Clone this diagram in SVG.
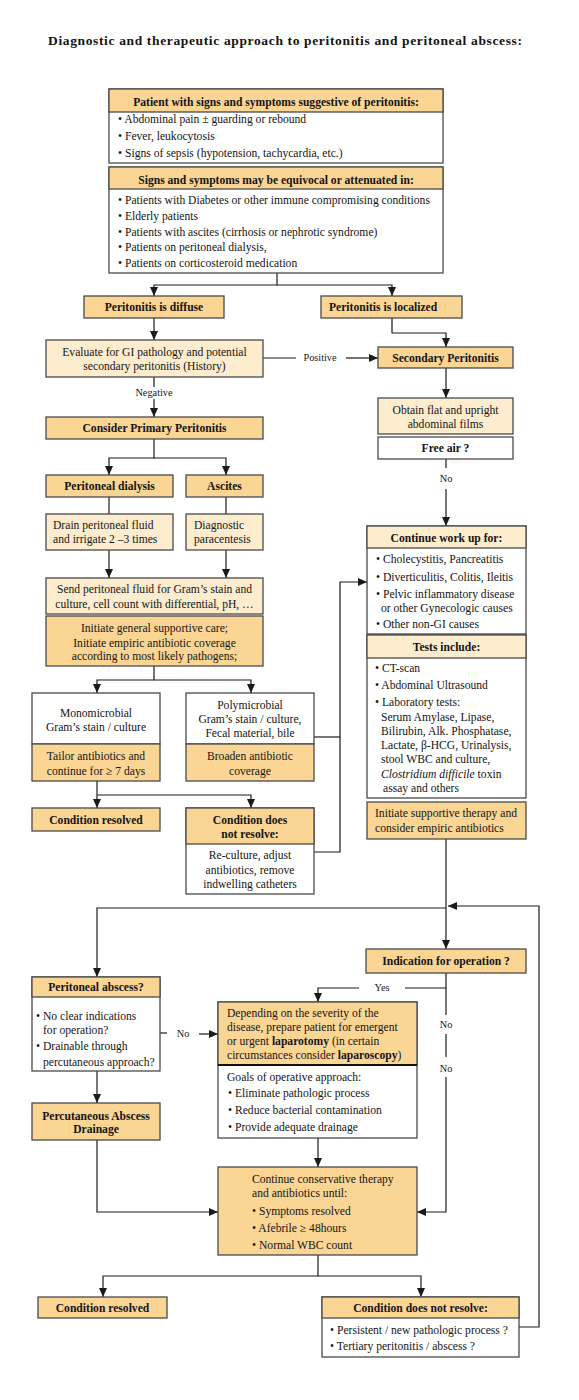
<svg xmlns="http://www.w3.org/2000/svg" width="579" height="1400" viewBox="0 0 579 1400">
<defs>
<marker id="ah" markerUnits="userSpaceOnUse" markerWidth="9" markerHeight="8" refX="9" refY="4" orient="auto">
<path d="M0,0 L9,4 L0,8 z" fill="#1a1a1a"/>
</marker>
<style>
.bx{stroke:#4a4a4a;stroke-width:1.3}
.dk{fill:#FAD594}
.cr{fill:#FDEDCE}
.wh{fill:#ffffff}
text{font-family:"Liberation Serif","Times New Roman",serif;font-size:11.6px;fill:#141414}
.b{font-weight:bold}
.m{text-anchor:middle}
.l{font-size:10.3px}
.c{fill:none;stroke:#1a1a1a;stroke-width:1.2}
.a{marker-end:url(#ah)}
.sep{stroke:#111;stroke-width:2}
</style>
</defs>
<rect width="579" height="1400" fill="#ffffff"/>
<text x="285" y="45" class="b m" style="font-size:13.5px" textLength="474">Diagnostic and therapeutic approach to peritonitis and peritoneal abscess:</text>

<g id="connectors">
<path class="c a" d="M277,273 V285 H154 V296"/>
<path class="c a" d="M277,285 H392 V296"/>
<path class="c a" d="M154,318 V340"/>
<path class="c a" d="M392,318 V333 H446 V347"/>
<path class="c" d="M263,358 H296"/>
<text x="320" y="361" class="m l">Positive</text>
<path class="c a" d="M346,358 H378"/>
<path class="c" d="M154,377 V387"/>
<text x="154" y="396" class="m l">Negative</text>
<path class="c a" d="M154,399 V417"/>
<path class="c a" d="M154,439 V458 H109 V475"/>
<path class="c a" d="M154,458 H226 V475"/>
<path class="c" d="M109,497 V514"/>
<path class="c" d="M226,497 V514"/>
<path class="c a" d="M109,550 V578"/>
<path class="c a" d="M226,550 V578"/>
<path class="c a" d="M154,666 V680 H97 V693"/>
<path class="c a" d="M154,680 H251 V693"/>
<path class="c a" d="M97,781 V808"/>
<path class="c a" d="M97,795 H251 V808"/>
<path class="c" d="M314,737 H340"/>
<path class="c a" d="M314,852 H340 V582 H367"/>
<path class="c a" d="M446,368 V398"/>
<path class="c" d="M446,459 V468"/>
<text x="446" y="482" class="m l">No</text>
<path class="c a" d="M446,489 V526"/>
<path class="c a" d="M446,839 V949"/>
<path class="c a" d="M446,908 H97 V977"/>
<path class="c a" d="M519,1327 H539 V906 H448"/>
<path class="c" d="M446,973 V988 H405"/>
<text x="382" y="991" class="m l">Yes</text>
<path class="c a" d="M359,988 H318 V1002"/>
<path class="c" d="M446,988 V1015"/>
<text x="446" y="1028" class="m l">No</text>
<path class="c" d="M446,1034 V1057"/>
<text x="446" y="1072" class="m l">No</text>
<path class="c a" d="M446,1077 V1212 H417"/>
<path class="c" d="M160,1033 H167"/>
<text x="183" y="1037" class="m l">No</text>
<path class="c a" d="M199,1034 H218"/>
<path class="c a" d="M97,1071 V1103"/>
<path class="c a" d="M97,1140 V1212 H218"/>
<path class="c a" d="M318,1138 V1167"/>
<path class="c a" d="M318,1255 V1276 H103 V1297"/>
<path class="c a" d="M318,1276 H421 V1297"/>
</g>

<g id="n1">
<rect x="109" y="89" width="334" height="74" class="bx wh"/>
<rect x="109" y="89" width="334" height="23" class="bx dk"/>
<text x="276" y="106" class="b m">Patient with signs and symptoms suggestive of peritonitis:</text>
<text x="118" y="123">• Abdominal pain ± guarding or rebound</text>
<text x="118" y="140">• Fever, leukocytosis</text>
<text x="118" y="157">• Signs of sepsis (hypotension, tachycardia, etc.)</text>
</g>

<g id="n2">
<rect x="109" y="167" width="334" height="106" class="bx wh"/>
<rect x="109" y="167" width="334" height="22" class="bx dk"/>
<text x="276" y="184" class="b m">Signs and symptoms may be equivocal or attenuated in:</text>
<text x="118" y="204">• Patients with Diabetes or other immune compromising conditions</text>
<text x="118" y="220">• Elderly patients</text>
<text x="118" y="236">• Patients with ascites (cirrhosis or nephrotic syndrome)</text>
<text x="118" y="251">• Patients on peritoneal dialysis,</text>
<text x="118" y="267">• Patients on corticosteroid medication</text>
</g>

<g id="n3">
<rect x="84" y="296" width="140" height="22" class="bx dk"/>
<text x="154" y="311" class="b m">Peritonitis is diffuse</text>
</g>

<g id="n4">
<rect x="321" y="296" width="141" height="22" class="bx dk"/>
<text x="329" y="311" class="b">Peritonitis is localized</text>
</g>

<g id="n5">
<rect x="46" y="340" width="217" height="37" class="bx cr"/>
<text x="154.5" y="356" class="m">Evaluate for GI pathology and potential</text>
<text x="154.5" y="370" class="m">secondary peritonitis (History)</text>
</g>

<g id="n6">
<rect x="378" y="347" width="135" height="21" class="bx dk"/>
<text x="445.5" y="362" class="b m">Secondary Peritonitis</text>
</g>

<g id="n7">
<rect x="46" y="417" width="217" height="22" class="bx dk"/>
<text x="154.5" y="432" class="b m">Consider Primary Peritonitis</text>
</g>

<g id="n8">
<rect x="46" y="475" width="127" height="22" class="bx dk"/>
<text x="109.5" y="490" class="b m">Peritoneal dialysis</text>
</g>

<g id="n9">
<rect x="186" y="475" width="77" height="22" class="bx dk"/>
<text x="224.5" y="490" class="b m">Ascites</text>
</g>

<g id="n10">
<rect x="46" y="514" width="127" height="36" class="bx cr"/>
<text x="53" y="529">Drain peritoneal fluid</text>
<text x="53" y="543">and irrigate 2 –3 times</text>
</g>

<g id="n11">
<rect x="186" y="514" width="77" height="36" class="bx cr"/>
<text x="194" y="529">Diagnostic</text>
<text x="194" y="543">paracentesis</text>
</g>

<g id="n12">
<rect x="46" y="578" width="217" height="36" class="bx cr"/>
<text x="154.5" y="593" class="m">Send peritoneal fluid for Gram’s stain and</text>
<text x="154.5" y="608" class="m">culture, cell count with differential, pH, …</text>
</g>

<g id="n13">
<rect x="46" y="616" width="217" height="50" class="bx dk"/>
<text x="154.5" y="632" class="m">Initiate general supportive care;</text>
<text x="154.5" y="647" class="m">Initiate empiric antibiotic coverage</text>
<text x="154.5" y="660" class="m">according to most likely pathogens;</text>
</g>

<g id="n14">
<rect x="378" y="398" width="135" height="36" class="bx cr"/>
<text x="445.5" y="414" class="m">Obtain flat and upright</text>
<text x="445.5" y="428" class="m">abdominal films</text>
</g>

<g id="n15">
<rect x="378" y="437" width="135" height="22" class="bx wh"/>
<text x="445.5" y="452" class="b m">Free air ?</text>
</g>

<g id="n16">
<rect x="367" y="526" width="159" height="108" class="bx wh"/>
<rect x="367" y="526" width="159" height="22" class="bx cr"/>
<text x="446.5" y="542" class="b m">Continue work up for:</text>
<text x="376" y="563">• Cholecystitis, Pancreatitis</text>
<text x="376" y="581">• Diverticulitis, Colitis, Ileitis</text>
<text x="376" y="598">• Pelvic inflammatory disease</text>
<text x="381" y="612">or other Gynecologic causes</text>
<text x="376" y="628">• Other non-GI causes</text>
</g>

<g id="n17">
<rect x="367" y="635" width="159" height="163" class="bx wh"/>
<rect x="367" y="635" width="159" height="23" class="bx cr"/>
<text x="446.5" y="651" class="b m">Tests include:</text>
<text x="375" y="672">• CT-scan</text>
<text x="375" y="689">• Abdominal Ultrasound</text>
<text x="375" y="706">• Laboratory  tests:</text>
<text x="381" y="721">Serum Amylase, Lipase,</text>
<text x="381" y="735">Bilirubin, Alk. Phosphatase,</text>
<text x="381" y="749">Lactate,  β-HCG, Urinalysis,</text>
<text x="381" y="763">stool WBC and culture,</text>
<text x="381" y="778"><tspan font-style="italic">Clostridium difficile</tspan> toxin</text>
<text x="383" y="792">assay and others</text>
</g>

<g id="n18">
<rect x="367" y="802" width="159" height="37" class="bx dk"/>
<text x="375" y="817">Initiate supportive therapy and</text>
<text x="375" y="832">consider empiric antibiotics</text>
</g>

<g id="n19">
<rect x="32" y="693" width="128" height="51" class="bx wh"/>
<rect x="32" y="744" width="128" height="37" class="bx dk"/>
<text x="96" y="717" class="m">Monomicrobial</text>
<text x="96" y="731" class="m">Gram’s stain / culture</text>
<text x="96" y="760" class="m">Tailor antibiotics and</text>
<text x="96" y="775" class="m">continue for ≥ 7 days</text>
</g>

<g id="n20">
<rect x="186" y="693" width="128" height="51" class="bx wh"/>
<rect x="186" y="744" width="128" height="37" class="bx dk"/>
<text x="250" y="709" class="m">Polymicrobial</text>
<text x="250" y="723" class="m">Gram’s stain / culture,</text>
<text x="250" y="737" class="m">Fecal material, bile</text>
<text x="250" y="760" class="m">Broaden antibiotic</text>
<text x="250" y="775" class="m">coverage</text>
</g>

<g id="n21">
<rect x="32" y="808" width="128" height="23" class="bx dk"/>
<text x="96" y="824" class="b m">Condition resolved</text>
</g>

<g id="n22">
<rect x="186" y="808" width="128" height="86" class="bx wh"/>
<rect x="186" y="808" width="128" height="36" class="bx dk"/>
<text x="250" y="824" class="b m">Condition does</text>
<text x="250" y="838" class="b m">not resolve:</text>
<text x="250" y="859" class="m">Re-culture, adjust</text>
<text x="250" y="874" class="m">antibiotics, remove</text>
<text x="250" y="888" class="m">indwelling catheters</text>
</g>

<g id="n23">
<rect x="366" y="949" width="160" height="24" class="bx dk"/>
<text x="446" y="965" class="b m">Indication for operation ?</text>
</g>

<g id="n24">
<rect x="32" y="977" width="128" height="94" class="bx wh"/>
<rect x="32" y="977" width="128" height="20" class="bx dk"/>
<text x="96" y="991" class="b m">Peritoneal abscess?</text>
<text x="36" y="1020">• No clear indications</text>
<text x="43" y="1034">for operation?</text>
<text x="36" y="1050">• Drainable through</text>
<text x="43" y="1066">percutaneous approach?</text>
</g>

<g id="n25">
<rect x="218" y="1002" width="199" height="136" class="bx wh"/>
<rect x="218" y="1002" width="199" height="63" class="bx dk"/>
<line x1="218" y1="1065" x2="417" y2="1065" class="sep"/>
<text x="227" y="1017">Depending on the severity of the</text>
<text x="227" y="1031">disease, prepare patient for emergent</text>
<text x="227" y="1045">or urgent <tspan class="b">laparotomy</tspan> (in certain</text>
<text x="227" y="1059">circumstances consider <tspan class="b">laparoscopy</tspan>)</text>
<text x="227" y="1081">Goals of operative approach:</text>
<text x="228" y="1097">• Eliminate pathologic process</text>
<text x="228" y="1114">• Reduce bacterial contamination</text>
<text x="228" y="1131">• Provide adequate drainage</text>
</g>

<g id="n26">
<rect x="32" y="1103" width="128" height="37" class="bx dk"/>
<text x="96" y="1120" class="b m">Percutaneous Abscess</text>
<text x="96" y="1133" class="b m">Drainage</text>
</g>

<g id="n27">
<rect x="218" y="1167" width="199" height="88" class="bx dk"/>
<text x="252" y="1183">Continue conservative therapy</text>
<text x="252" y="1197">and antibiotics until:</text>
<text x="252" y="1215">• Symptoms resolved</text>
<text x="252" y="1232">• Afebrile ≥ 48hours</text>
<text x="252" y="1249">• Normal WBC count</text>
</g>

<g id="n28">
<rect x="38" y="1297" width="129" height="21" class="bx dk"/>
<text x="102.5" y="1312" class="b m">Condition resolved</text>
</g>

<g id="n29">
<rect x="322" y="1297" width="197" height="60" class="bx wh"/>
<rect x="322" y="1297" width="197" height="21" class="bx dk"/>
<text x="420.5" y="1312" class="b m">Condition does not resolve:</text>
<text x="330" y="1334">• Persistent / new pathologic process ?</text>
<text x="330" y="1350">• Tertiary peritonitis / abscess ?</text>
</g>
</svg>
